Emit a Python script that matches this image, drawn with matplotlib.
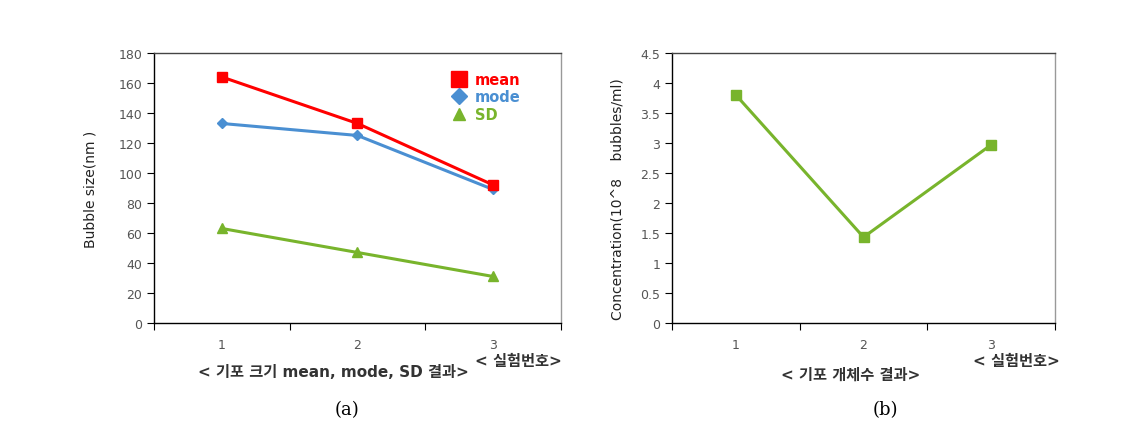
import matplotlib
matplotlib.use('Agg')
from matplotlib import pyplot as plt
from matplotlib.lines import Line2D

plt.rcParams['font.family'] = ['DejaVu Sans', 'Noto Sans CJK KR']

runs = [1, 2, 3]

# bubble size (nm) per run
mean_size = [164, 133, 92]
mode_size = [133, 125, 89]
sd_size = [63, 47, 31]

# concentration (10^8 bubbles/ml) per run
concentration = [3.8, 1.43, 2.97]

red = '#ff0000'
blue = '#4a8fd2'
green = '#78b42c'
tick_grey = '#555555'

fig = plt.figure(figsize=(11.39, 4.31), dpi=100)
ax1 = fig.add_axes([0.1352, 0.2483, 0.3573, 0.6265])
ax2 = fig.add_axes([0.590, 0.2483, 0.3363, 0.6265])


def style_axes(ax):
    ax.set_xlim(0.5, 3.5)
    ax.set_xticks([0.5, 1.5, 2.5, 3.5])
    ax.set_xticklabels([])
    ax.set_xticks(runs, minor=True)
    ax.set_xticklabels([str(r) for r in runs], minor=True)
    ax.tick_params(axis='x', which='major', direction='out', length=5, color='black')
    ax.tick_params(axis='x', which='minor', length=0, pad=11, labelsize=9, labelcolor=tick_grey)
    ax.tick_params(axis='y', direction='out', length=5, labelsize=9, labelcolor=tick_grey)
    ax.spines['left'].set_color('black')
    ax.spines['bottom'].set_color('black')
    ax.spines['top'].set_color('#444444')
    ax.spines['right'].set_color('#999999')
    for s in ax.spines.values():
        s.set_linewidth(1.0)


# (a) bubble size
ax1.plot(runs, mean_size, color=red, lw=2.2, marker='s', ms=7.5, zorder=3)
ax1.plot(runs, mode_size, color=blue, lw=2.2, marker='D', ms=5.5, zorder=2)
ax1.plot(runs, sd_size, color=green, lw=2.2, marker='^', ms=6.5, zorder=2)
style_axes(ax1)
ax1.set_ylim(0, 180)
ax1.set_yticks(range(0, 181, 20))
ax1.set_ylabel('Bubble size(nm )', fontsize=10, color='#222222')
ax1.yaxis.set_label_coords(-0.14, 0.5)

handles = [Line2D([], [], color=red, marker='s', ms=11, ls='none'),
           Line2D([], [], color=blue, marker='D', ms=8, ls='none'),
           Line2D([], [], color=green, marker='^', ms=9, ls='none')]
leg = ax1.legend(handles, ['mean', 'mode', 'SD'], loc='upper right',
                 bbox_to_anchor=(0.915, 0.95), frameon=False, handlelength=1.0,
                 handletextpad=0.6, labelspacing=0.15, borderaxespad=0,
                 prop={'weight': 'bold', 'size': 10.5})
for txt, c in zip(leg.get_texts(), [red, blue, green]):
    txt.set_color(c)

ax1.text(0.44, -0.18, '< 기포 크기 mean, mode, SD 결과>', transform=ax1.transAxes,
         ha='center', va='center', fontsize=11, weight='bold', color='#333333')
ax1.text(0.895, -0.14, '< 실험번호>', transform=ax1.transAxes,
         ha='center', va='center', fontsize=11, weight='bold', color='#333333')
fig.text(347 / 1139, 1 - 410 / 431, '(a)', ha='center', va='center',
         fontsize=13, family='DejaVu Serif')

# (b) concentration
ax2.plot(runs, concentration, color=green, lw=2.2, marker='s', ms=7.5)
style_axes(ax2)
ax2.set_ylim(0, 4.5)
ax2.set_yticks([0, 0.5, 1, 1.5, 2, 2.5, 3, 3.5, 4, 4.5])
ax2.set_yticklabels(['0', '0.5', '1', '1.5', '2', '2.5', '3', '3.5', '4', '4.5'])
ax2.set_ylabel('Concentration(10^8    bubbles/ml)', fontsize=10, color='#222222')
ax2.yaxis.set_label_coords(-0.123, 0.463)

ax2.text(0.465, -0.19, '< 기포 개체수 결과>', transform=ax2.transAxes,
         ha='center', va='center', fontsize=11, weight='bold', color='#333333')
ax2.text(0.9, -0.14, '< 실험번호>', transform=ax2.transAxes,
         ha='center', va='center', fontsize=11, weight='bold', color='#333333')
fig.text(885 / 1139, 1 - 410 / 431, '(b)', ha='center', va='center',
         fontsize=13, family='DejaVu Serif')

plt.savefig('out.png', dpi=100)
